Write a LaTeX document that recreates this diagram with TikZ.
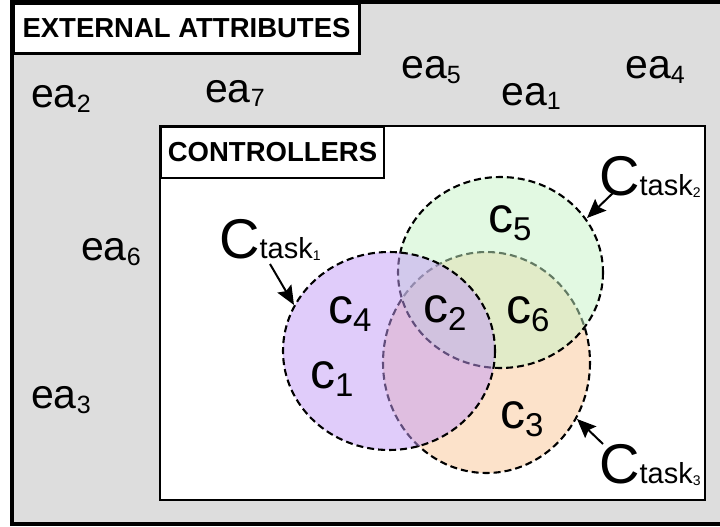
\documentclass[tikz,border=0pt]{standalone}
\usepackage{fontspec}
\setmainfont{Liberation Sans}
\usetikzlibrary{arrows.meta}
\definecolor{bggray}{RGB}{221,221,221}
\definecolor{purplebase}{RGB}{195,155,247}
\definecolor{greenbase}{RGB}{199,245,199}
\definecolor{orangebase}{RGB}{251,199,151}
\newcommand\ealab[1]{{\fontsize{41}{41}\selectfont ea}\raisebox{-5pt}{\fontsize{25}{25}\selectfont #1}}
\newcommand\clab[1]{{\fontsize{50}{50}\selectfont c}\raisebox{-8pt}{\fontsize{33}{33}\selectfont #1}}
\newcommand\ctask[1]{{\fontsize{56}{56}\selectfont C}{\fontsize{29}{29}\selectfont task}\raisebox{-2pt}{\fontsize{14}{14}\selectfont #1}}
\tikzset{
  txt/.style={anchor=base west, inner sep=0pt},
  setc/.style={draw=black, line width=2.1pt, dash pattern=on 7pt off 4pt, fill opacity=0.5},
  ptr/.style={line width=2pt, -{Stealth[length=19pt,width=16pt,inset=3pt]}},
  title/.style={font=\bfseries\fontsize{27.5}{27.5}\selectfont}
}
\begin{document}
\begin{tikzpicture}[x=1pt,y=-1pt]
\useasboundingbox (0,0) rectangle (720,527);
\clip (0,0) rectangle (720,527);
% outer frame
\draw[line width=4pt, fill=bggray] (12,2) rectangle (740,524);
\node[draw, line width=3pt, fill=white, minimum width=346pt, minimum height=50pt, anchor=north west, inner sep=0pt, title] (ext) at (12,2) {EXTERNAL ATTRIBUTES};
% inner box
\draw[line width=2pt, fill=white] (160,126) rectangle (705,500);
\node[draw, line width=2pt, fill=white, minimum width=223pt, minimum height=51pt, anchor=north west, inner sep=0pt, title] (ctrl) at (160,126) {CONTROLLERS};
% sets
\draw[setc, fill=orangebase] (486.5,362.5) ellipse [x radius=103.5, y radius=110.5];
\draw[setc, fill=greenbase] (500.5,272.5) ellipse [x radius=102.5, y radius=95.5];
\draw[setc, fill=purplebase] (389,351) ellipse [x radius=106, y radius=99];
% external attributes
\node[txt] (ea2) at (31,107) {\ealab{2}};
\node[txt] (ea7) at (205,102) {\ealab{7}};
\node[txt] (ea5) at (401,78) {\ealab{5}};
\node[txt] (ea1) at (501,105) {\ealab{1}};
\node[txt] (ea4) at (625,78) {\ealab{4}};
\node[txt] (ea6) at (81,260) {\ealab{6}};
\node[txt] (ea3) at (31,408) {\ealab{3}};
% controllers
\node[txt] (c5) at (488,232) {\clab{5}};
\node[txt] (c4) at (328,323) {\clab{4}};
\node[txt] (c2) at (423,322) {\clab{2}};
\node[txt] (c6) at (506,323) {\clab{6}};
\node[txt] (c1) at (310,388) {\clab{1}};
\node[txt] (c3) at (500,428) {\clab{3}};
% task labels
\node[txt] (t1) at (219,258) {\ctask{1}};
\node[txt] (t2) at (599,195) {\ctask{2}};
\node[txt] (t3) at (599,483) {\ctask{3}};
\coordinate (p1s) at (270,264);
\coordinate (p1e) at (294,305);
\coordinate (p2s) at (614,192);
\coordinate (p2e) at (587,218);
\coordinate (p3s) at (603,444);
\coordinate (p3e) at (577,419);
\draw[ptr] (p1s) -- (p1e);
\draw[ptr] (p2s) -- (p2e);
\draw[ptr] (p3s) -- (p3e);
\end{tikzpicture}
\end{document}
